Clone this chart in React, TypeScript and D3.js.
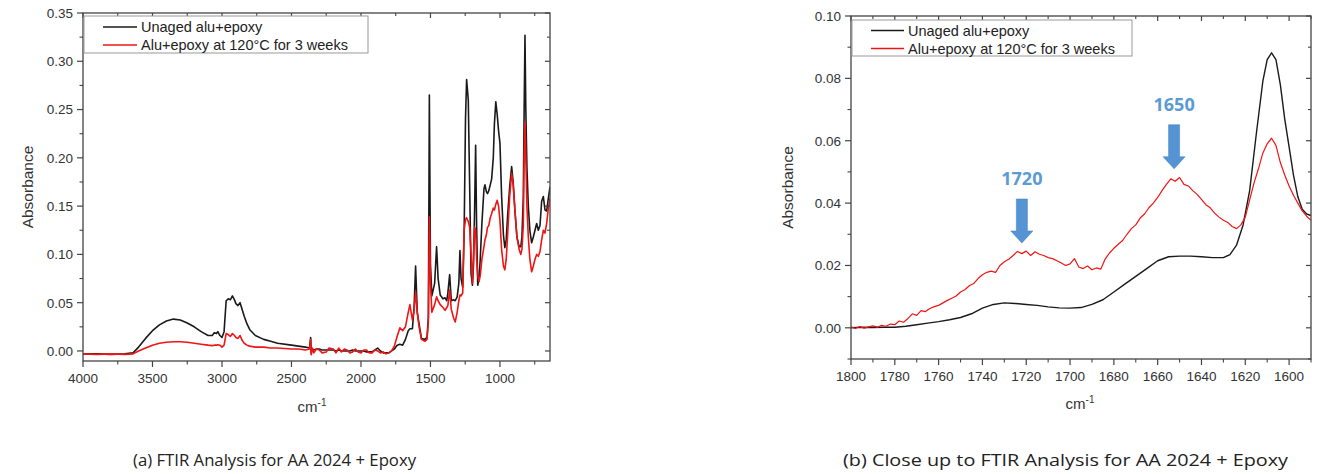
import React from 'react';
import * as d3 from 'd3';

// ---------- DATA ----------
const seriesNames = ['Unaged alu+epoxy', 'Alu+epoxy at 120°C for 3 weeks'];
const seriesColors = ['#1a1a1a', '#f01414'];

// (a) full spectrum
const wnFull = [4000, 3900, 3800, 3700, 3640, 3600, 3550, 3500, 3450, 3400, 3350, 3300, 3250, 3200, 3150, 3100, 3070, 3055, 3040, 3030, 3015, 3000, 2985, 2970, 2955, 2940, 2925, 2910, 2900, 2885, 2870, 2855, 2840, 2820, 2800, 2760, 2700, 2650, 2600, 2500, 2450, 2400, 2370, 2362, 2358, 2350,
  2340, 2320, 2300, 2280, 2250, 2230, 2200, 2180, 2160, 2140, 2120, 2100, 2080, 2060, 2040, 2020, 2000, 1980, 1960, 1940, 1920, 1900, 1880, 1860, 1840, 1820, 1800,
  1780, 1760, 1740, 1720, 1700, 1680, 1660, 1648, 1630, 1618, 1607, 1595, 1582, 1565, 1540, 1525, 1515, 1508, 1500, 1490, 1470, 1456, 1445, 1430, 1410, 1395, 1383, 1375, 1362, 1350, 1335, 1322, 1308, 1296, 1288, 1280, 1268, 1258, 1248, 1240, 1228, 1218, 1208, 1198, 1190, 1182, 1175, 1168, 1160, 1150, 1142, 1130, 1115, 1108, 1098, 1090, 1080, 1070, 1060, 1048, 1040, 1030, 1020, 1010, 1000, 988, 975, 965, 955, 945, 930, 916, 905, 892, 878, 862, 850, 842, 832, 826, 820, 814, 806, 796, 785, 772, 760, 748, 736, 724, 712, 700, 688, 676, 664, 652, 640];
const unagedFull = [-0.003, -0.003, -0.0035, -0.003, -0.002, 0.004, 0.013, 0.021, 0.027, 0.031, 0.033, 0.032, 0.029, 0.025, 0.02, 0.016, 0.016, 0.019, 0.018, 0.02, 0.016, 0.014, 0.02, 0.052, 0.054, 0.053, 0.057, 0.053, 0.049, 0.047, 0.05, 0.043, 0.036, 0.028, 0.022, 0.016, 0.012, 0.01, 0.008, 0.006, 0.005, 0.004, 0.003, 0.014, -0.002, 0.002,
  0.001, 0.002, 0.002, 0.001, 0.001, 0.001, 0.001, 0.0, 0.001, 0.0, 0.0, 0.0, 0.0, 0.001, 0.0, 0.0, 0.0, 0.0, -0.001, -0.001, -0.001, 0.001, 0.003, 0.0, -0.002, -0.002, -0.002,
  0.0, 0.002, 0.006, 0.007, 0.006, 0.012, 0.021, 0.023, 0.023, 0.045, 0.088, 0.04, 0.028, 0.013, 0.012, 0.014, 0.035, 0.265, 0.09, 0.057, 0.07, 0.108, 0.075, 0.058, 0.054, 0.055, 0.052, 0.06, 0.079, 0.052, 0.053, 0.052, 0.056, 0.07, 0.104, 0.075, 0.066, 0.12, 0.24, 0.281, 0.26, 0.17, 0.08, 0.068, 0.09, 0.15, 0.213, 0.13, 0.068, 0.075, 0.095, 0.132, 0.168, 0.172, 0.165, 0.163, 0.166, 0.172, 0.178, 0.2, 0.235, 0.258, 0.245, 0.228, 0.215, 0.16, 0.12, 0.107, 0.115, 0.14, 0.17, 0.191, 0.175, 0.145, 0.118, 0.108, 0.108, 0.118, 0.16, 0.25, 0.327, 0.25, 0.19, 0.15, 0.125, 0.112, 0.118, 0.125, 0.132, 0.125, 0.13, 0.155, 0.16, 0.146, 0.145, 0.158, 0.17];
const agedFull = [-0.003, -0.0035, -0.003, -0.0035, -0.003, 0.0, 0.003, 0.006, 0.008, 0.009, 0.0095, 0.0095, 0.009, 0.008, 0.007, 0.006, 0.0055, 0.006, 0.006, 0.0065, 0.006, 0.004, 0.006, 0.018, 0.017, 0.015, 0.018, 0.016, 0.014, 0.013, 0.016, 0.011, 0.008, 0.006, 0.005, 0.004, 0.004, 0.003, 0.003, 0.002, 0.002, 0.001, 0.002, 0.012, -0.004, 0.003,
  -0.002, 0.002, 0.001, -0.002, -0.001, 0.003, 0.002, -0.002, 0.003, -0.001, 0.002, 0.001, -0.002, -0.001, 0.002, -0.001, -0.002, 0.001, 0.001, -0.002, -0.002, 0.001, 0.0, -0.002, -0.001, -0.003, -0.002,
  0.0, 0.005, 0.015, 0.024, 0.021, 0.025, 0.04, 0.048, 0.032, 0.042, 0.061, 0.04, 0.025, 0.012, 0.01, 0.012, 0.03, 0.139, 0.07, 0.04, 0.048, 0.056, 0.052, 0.048, 0.045, 0.042, 0.045, 0.047, 0.063, 0.043, 0.035, 0.03, 0.04, 0.052, 0.058, 0.057, 0.06, 0.125, 0.136, 0.138, 0.134, 0.128, 0.1, 0.07, 0.1, 0.128, 0.125, 0.095, 0.078, 0.072, 0.078, 0.095, 0.108, 0.115, 0.12, 0.128, 0.13, 0.138, 0.142, 0.148, 0.146, 0.152, 0.156, 0.15, 0.135, 0.105, 0.088, 0.084, 0.095, 0.12, 0.16, 0.184, 0.172, 0.145, 0.118, 0.105, 0.1, 0.105, 0.13, 0.2, 0.237, 0.2, 0.15, 0.118, 0.095, 0.082, 0.088, 0.095, 0.1, 0.098, 0.103, 0.115, 0.125, 0.122, 0.132, 0.148, 0.158];

// (b) close-up
const wnCloseUnaged = [1800, 1795, 1790, 1785, 1780, 1775, 1770, 1765, 1760, 1755, 1750, 1745, 1740, 1735, 1730, 1725, 1720, 1715, 1710, 1705, 1700, 1695, 1690, 1685, 1680, 1675, 1670, 1665, 1660, 1655, 1650, 1645, 1640, 1635, 1630, 1627, 1624, 1621, 1618, 1615, 1612, 1610, 1608, 1606, 1604, 1602, 1600, 1598, 1596, 1594, 1592, 1590];
const unagedClose = [0.0, 0.0002, 0.0001, 0.0002, 0.0002, 0.0005, 0.001, 0.0015, 0.002, 0.0026, 0.0033, 0.0045, 0.0063, 0.0075, 0.008, 0.0078, 0.0075, 0.0072, 0.0067, 0.0064, 0.0063, 0.0065, 0.0075, 0.009, 0.0115, 0.014, 0.0165, 0.019, 0.0215, 0.0228, 0.023, 0.023, 0.0228, 0.0225, 0.0225, 0.0235, 0.0265, 0.033, 0.044, 0.062, 0.079, 0.086, 0.0882, 0.086, 0.078, 0.067, 0.058, 0.049, 0.042, 0.038, 0.0365, 0.036];
const wnCloseAged = [1800, 1798, 1796, 1794, 1792, 1790, 1788, 1786, 1784, 1782, 1780, 1778, 1776, 1774, 1772, 1770, 1768, 1766, 1764, 1762, 1760, 1758, 1756, 1754, 1752, 1750, 1748, 1746, 1744, 1742, 1740, 1738, 1736, 1734, 1732, 1730, 1728, 1726, 1724, 1722, 1720, 1718, 1716, 1714, 1712, 1710, 1708, 1706, 1704, 1702, 1700, 1698, 1696, 1694, 1692, 1690, 1688, 1686, 1684, 1682, 1680, 1678, 1676, 1674, 1672, 1670, 1668, 1666, 1664, 1662, 1660, 1658, 1656, 1654, 1652, 1650, 1648, 1646, 1644, 1642, 1640, 1638, 1636, 1634, 1632, 1630, 1628, 1626, 1624, 1622, 1620, 1618, 1616, 1614, 1612, 1610, 1608, 1606, 1604, 1602, 1600, 1598, 1596, 1594, 1592, 1590];
const agedClose = [0.0003, -0.0002, 0.0004, -0.0001, 0.0003, 0.0006, 0.0002, 0.0008, 0.0005, 0.0012, 0.001, 0.0022, 0.0018, 0.003, 0.0045, 0.004, 0.0055, 0.0052, 0.0062, 0.0068, 0.0072, 0.008, 0.0088, 0.0095, 0.0102, 0.0115, 0.0122, 0.0135, 0.0142, 0.0158, 0.017, 0.0178, 0.0182, 0.0178, 0.02, 0.0212, 0.022, 0.0232, 0.0245, 0.0238, 0.0246, 0.0232, 0.0244, 0.0236, 0.0232, 0.0225, 0.0222, 0.0215, 0.0208, 0.02, 0.0205, 0.0222, 0.0195, 0.019, 0.0198, 0.0186, 0.0192, 0.0188, 0.022, 0.024, 0.0255, 0.0268, 0.028, 0.03, 0.0318, 0.033, 0.0352, 0.0365, 0.0385, 0.04, 0.0418, 0.044, 0.046, 0.0478, 0.047, 0.0482, 0.046, 0.0455, 0.044, 0.0428, 0.0412, 0.0395, 0.0385, 0.0368, 0.0355, 0.0345, 0.0338, 0.0325, 0.0318, 0.033, 0.0355, 0.041, 0.0465, 0.051, 0.056, 0.059, 0.0608, 0.0585, 0.053, 0.049, 0.0455, 0.0425, 0.04, 0.0375, 0.0358, 0.0345];

const fullXTicks = [4000, 3500, 3000, 2500, 2000, 1500, 1000];
const fullYTicks = [0, 0.05, 0.1, 0.15, 0.2, 0.25, 0.3, 0.35];
const closeXTicks = [1800, 1780, 1760, 1740, 1720, 1700, 1680, 1660, 1640, 1620, 1600];
const closeYTicks = [0, 0.02, 0.04, 0.06, 0.08, 0.1];

const annotationLabels = ['1720', '1650'];
const annotationWn = [1722, 1652.5];
const annotationTip = [0.0272, 0.051];

const captions = ['(a) FTIR Analysis for AA 2024 + Epoxy', '(b) Close up to FTIR Analysis for AA 2024 + Epoxy'];
const yTitle = 'Absorbance';

// ---------- COMPONENTS ----------
const FONT = "'Liberation Sans', Arial, sans-serif";
const AXIS = '#444';

type Series = { x: number[]; y: number[]; color: string; width: number };

function minorTicks(major: number[], domain: [number, number]) {
  const step = major[1] - major[0];
  const lo = Math.min(domain[0], domain[1]);
  const hi = Math.max(domain[0], domain[1]);
  const out: number[] = [];
  const first = major[0] - step / 2;
  for (let i = -2; i < major.length + 2; i++) {
    const v = first + i * step;
    if (v >= lo - 1e-9 && v <= hi + 1e-9) out.push(v);
  }
  return out;
}

function Panel(props: {
  x0: number; x1: number; yTop: number; yBot: number;
  xDomain: [number, number]; yDomain: [number, number];
  xTicks: number[]; yTicks: number[];
  series: Series[];
  legend: { x: number; y: number; w: number; h: number; lineX0: number; lineX1: number; textX: number; rows: number[]; size: number };
  xTitle: { x: number; y: number };
  yTitleX: number;
  children?: any;
  fmtX: (v: number) => string;
}) {
  const { x0, x1, yTop, yBot, xDomain, yDomain, xTicks, yTicks, series, legend } = props;
  const xs = d3.scaleLinear().domain(xDomain).range([x0, x1]);
  const ys = d3.scaleLinear().domain(yDomain).range([yBot, yTop]);
  const xMinor = minorTicks(xTicks, xDomain);
  const yMinor = minorTicks(yTicks, yDomain);
  const fmtY = d3.format('.2f');
  return (
    <g>
      <defs>
        <clipPath id={`clip${x0}`}>
          <rect x={x0} y={yTop} width={x1 - x0} height={yBot - yTop} />
        </clipPath>
      </defs>
      <g clipPath={`url(#clip${x0})`}>
        {series.map((s, i) => {
          const line = d3.line<number>().x((_, j) => xs(s.x[j])).y((v) => ys(v));
          return <path key={i} d={line(s.y) || ''} fill="none" stroke={s.color} strokeWidth={s.width} strokeLinejoin="round" />;
        })}
      </g>
      <rect x={x0} y={yTop} width={x1 - x0} height={yBot - yTop} fill="none" stroke={AXIS} strokeWidth={1.3} />
      {xTicks.map((t) => (
        <g key={'xt' + t}>
          <line x1={xs(t)} x2={xs(t)} y1={yBot} y2={yBot + 6} stroke={AXIS} strokeWidth={1.2} />
          <line x1={xs(t)} x2={xs(t)} y1={yTop} y2={yTop + 5} stroke={AXIS} strokeWidth={1.2} />
          <text x={xs(t)} y={yBot + 22} textAnchor="middle" fontFamily={FONT} fontSize={13.5} fill="#333">{props.fmtX(t)}</text>
        </g>
      ))}
      {xMinor.map((t) => (
        <g key={'xm' + t}>
          <line x1={xs(t)} x2={xs(t)} y1={yBot} y2={yBot + 3.5} stroke={AXIS} strokeWidth={1.1} />
          <line x1={xs(t)} x2={xs(t)} y1={yTop} y2={yTop + 3} stroke={AXIS} strokeWidth={1.1} />
        </g>
      ))}
      {yTicks.map((t) => (
        <g key={'yt' + t}>
          <line x1={x0 - 6} x2={x0} y1={ys(t)} y2={ys(t)} stroke={AXIS} strokeWidth={1.2} />
          <line x1={x1 - 5} x2={x1} y1={ys(t)} y2={ys(t)} stroke={AXIS} strokeWidth={1.2} />
          <text x={x0 - 10} y={ys(t)} dy="0.36em" textAnchor="end" fontFamily={FONT} fontSize={13.5} fill="#333">{fmtY(t)}</text>
        </g>
      ))}
      {yMinor.map((t) => (
        <g key={'ym' + t}>
          <line x1={x0 - 3.5} x2={x0} y1={ys(t)} y2={ys(t)} stroke={AXIS} strokeWidth={1.1} />
          <line x1={x1 - 3} x2={x1} y1={ys(t)} y2={ys(t)} stroke={AXIS} strokeWidth={1.1} />
        </g>
      ))}
      <text x={props.xTitle.x} y={props.xTitle.y} textAnchor="middle" fontFamily={FONT} fontSize={15} fill="#333">
        cm<tspan dy={-6} fontSize={10}>-1</tspan>
      </text>
      <text transform={`translate(${props.yTitleX},${(yTop + yBot) / 2}) rotate(-90)`} textAnchor="middle" fontFamily={FONT} fontSize={15.5} fill="#333">{yTitle}</text>
      <rect x={legend.x} y={legend.y} width={legend.w} height={legend.h} fill="#fff" stroke="#999" strokeWidth={1} />
      {seriesNames.map((n, i) => (
        <g key={n}>
          <line x1={legend.lineX0} x2={legend.lineX1} y1={legend.rows[i]} y2={legend.rows[i]} stroke={seriesColors[i]} strokeWidth={1.5} />
          <text x={legend.textX} y={legend.rows[i]} dy="0.36em" fontFamily={FONT} fontSize={legend.size} fill="#222">{n}</text>
        </g>
      ))}
      {props.children ? props.children(xs, ys) : null}
    </g>
  );
}

export default function App() {
  const fmtInt = d3.format('d');
  return (
    <svg width={1320} height={474} style={{ position: 'absolute', left: 0, top: 0, background: '#fff' }}>
      <rect width={1320} height={474} fill="#fff" />
      <Panel
        x0={83} x1={550} yTop={13} yBot={361}
        xDomain={[4000, 640]} yDomain={[-0.0104, 0.35]}
        xTicks={fullXTicks} yTicks={fullYTicks}
        series={[
          { x: wnFull, y: unagedFull, color: seriesColors[0], width: 1.6 },
          { x: wnFull, y: agedFull, color: seriesColors[1], width: 1.6 },
        ]}
        legend={{ x: 84, y: 16, w: 284, h: 37, lineX0: 103, lineX1: 137, textX: 141, rows: [27, 45], size: 14.5 }}
        xTitle={{ x: 312, y: 412 }}
        yTitleX={33}
        fmtX={fmtInt}
      />
      <Panel
        x0={851} x1={1311} yTop={16} yBot={359}
        xDomain={[1800, 1590]} yDomain={[-0.01, 0.1]}
        xTicks={closeXTicks} yTicks={closeYTicks}
        series={[
          { x: wnCloseUnaged, y: unagedClose, color: seriesColors[0], width: 1.4 },
          { x: wnCloseAged, y: agedClose, color: seriesColors[1], width: 1.2 },
        ]}
        legend={{ x: 852, y: 20, w: 280, h: 36, lineX0: 871, lineX1: 904, textX: 908, rows: [30.5, 48.5], size: 14.5 }}
        xTitle={{ x: 1080, y: 409 }}
        yTitleX={793}
        fmtX={fmtInt}
      >
        {(xs: any, ys: any) =>
          annotationLabels.map((lab, i) => {
            const cx = xs(annotationWn[i]);
            const tip = ys(annotationTip[i]);
            const shaftTop = tip - 44;
            const headTop = tip - 12;
            const pts = [
              [cx - 5.5, shaftTop], [cx + 5.5, shaftTop], [cx + 5.5, headTop], [cx + 11, headTop],
              [cx, tip], [cx - 11, headTop], [cx - 5.5, headTop],
            ];
            return (
              <g key={lab}>
                <polygon points={pts.map((p) => p.join(',')).join(' ')} fill="#5693d3" stroke="#4a86c6" strokeWidth={0.6} />
                <text x={cx} y={shaftTop - 14} textAnchor="middle" fontFamily="'Open Sans', sans-serif" fontWeight={700} fontSize={18} fill="#5b9bd5">{lab}</text>
              </g>
            );
          })
        }
      </Panel>
      <text x={133} y={466} textLength={283} lengthAdjust="spacingAndGlyphs" fontFamily="'Open Sans', sans-serif" fontSize={17} fill="#222">{captions[0]}</text>
      <text x={843} y={466} textLength={445} lengthAdjust="spacingAndGlyphs" fontFamily="'Open Sans', sans-serif" fontSize={17} fill="#222">{captions[1]}</text>
    </svg>
  );
}
